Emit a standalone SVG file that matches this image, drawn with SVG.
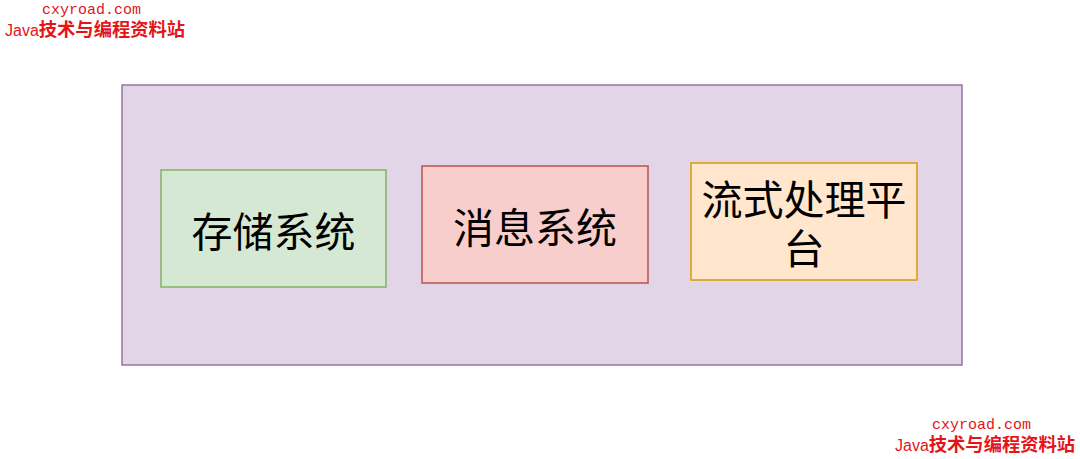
<svg xmlns="http://www.w3.org/2000/svg" width="1080" height="459" viewBox="0 0 1080 459">
<style>
.node{font-family:"Noto Sans CJK SC","Noto Sans",sans-serif;font-size:41px;fill:#000;text-anchor:middle;dominant-baseline:central}
.wm1{font-family:"Liberation Mono","DejaVu Sans Mono",monospace;font-size:15px;fill:#e4141b}
.wm2{font-family:"Liberation Sans","Noto Sans CJK SC",sans-serif;font-size:16px;fill:#e4141b}
.wm2 tspan{font-family:"Noto Sans CJK SC",sans-serif;font-weight:bold;font-size:18.3px}
</style>
<rect width="1080" height="459" fill="#ffffff"/>
<g id="container">
<rect x="122" y="85" width="840" height="280" fill="#e1d5e7" stroke="#9673a6" stroke-width="1.5"/>
</g>
<g id="storage">
<rect x="161" y="170" width="225" height="117" fill="#d5e8d4" stroke="#82b366" stroke-width="1.5"/>
<text class="node" x="273.5" y="229">存储系统</text>
</g>
<g id="messaging">
<rect x="422" y="166" width="226" height="117" fill="#f8cecc" stroke="#b85450" stroke-width="1.5"/>
<text class="node" x="535" y="225">消息系统</text>
</g>
<g id="streaming">
<rect x="691" y="163" width="226" height="117" fill="#ffe6cc" stroke="#d79b00" stroke-width="1.5"/>
<text class="node"><tspan x="804" y="197">流式处理平</tspan><tspan x="804" y="246">台</tspan></text>
</g>
<g id="connectors"></g>
<g id="watermarks">
<text class="wm1" x="42" y="14">cxyroad.com</text>
<text class="wm2" x="5" y="36">Java<tspan>技术与编程资料站</tspan></text>
<text class="wm1" x="932" y="429">cxyroad.com</text>
<text class="wm2" x="895" y="451">Java<tspan>技术与编程资料站</tspan></text>
</g>
</svg>
